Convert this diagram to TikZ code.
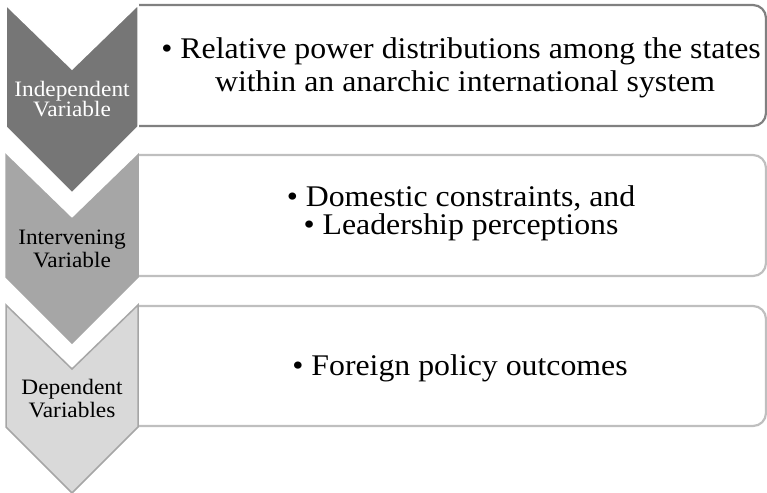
\documentclass[tikz,border=0pt]{standalone}
\usepackage{fontspec}
\setmainfont{Liberation Serif}[FakeStretch=1.06]
\definecolor{darkchev}{HTML}{767676}
\definecolor{midchev}{HTML}{A6A6A6}
\definecolor{lightchev}{HTML}{D9D9D9}
\definecolor{darkrim}{HTML}{808080}
\definecolor{lightrim}{HTML}{BFBFBF}
\begin{document}
\begin{tikzpicture}[x=1pt,y=-1pt,
  bodytext/.style={anchor=base, inner sep=0pt, text=black,
    font=\fontsize{30}{33}\selectfont},
  tagtext/.style={anchor=base, inner sep=0pt,
    font=\fontsize{22}{21}\selectfont},
  panel/.style={line width=2.2pt, rounded corners=13pt},
]
\useasboundingbox (0,0) rectangle (767,492);

% text panels (left edges sit under the chevrons)
\draw[panel, darkrim]  (138,5)   -- (766,5)   -- (766,126) -- (138,126);
\draw[panel, lightrim] (138,155) -- (766,155) -- (766,276) -- (138,276);
\draw[panel, lightrim] (138,306) -- (766,306) -- (766,426) -- (138,426);

% chevrons
\foreach \d/\fillc/\rimc in {0/darkchev/white, 150/midchev/midchev, 300/lightchev/midchev}{
  \filldraw[fill=\fillc, draw=\rimc, line width=1.5pt, line join=miter]
    (6,5+\d) -- (72,69+\d) -- (138,5+\d) -- (138,127+\d) -- (72,193+\d) -- (6,127+\d) -- cycle;
}

% chevron labels
\node[tagtext, text=white] (iv1) at (72,96)  {Independent};
\node[tagtext, text=white] (iv2) at (72,117) {Variable};
\node[tagtext, text=black] (mv1) at (72,244) {Intervening};
\node[tagtext, text=black] (mv2) at (72,267) {Variable};
\node[tagtext, text=black] (dv1) at (72,394) {Dependent};
\node[tagtext, text=black] (dv2) at (72,417) {Variables};

% panel contents
\node[bodytext] (p1a) at (461,59)  {• Relative power distributions among the states};
\node[bodytext] (p1b) at (465,92)  {within an anarchic international system};
\node[bodytext] (p2a) at (461,206) {• Domestic constraints, and};
\node[bodytext] (p2b) at (461,234) {• Leadership perceptions};
\node[bodytext] (p3a) at (460,375) {• Foreign policy outcomes};
\end{tikzpicture}
\end{document}
